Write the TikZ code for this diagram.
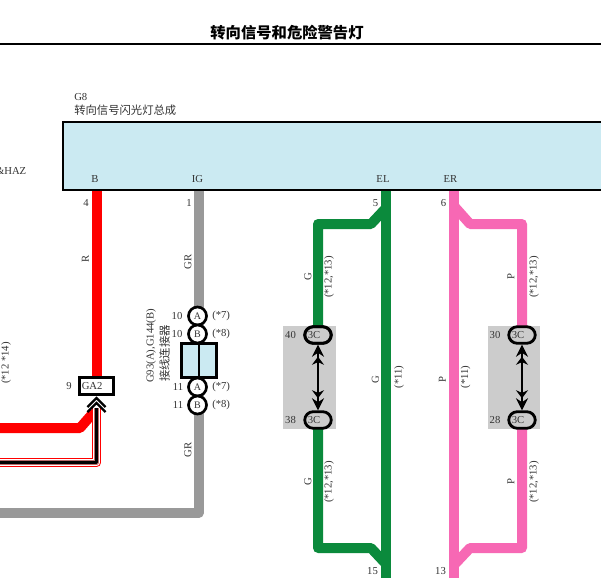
\documentclass[tikz,border=0pt]{standalone}
\usepackage{fontspec}
\setmainfont{Liberation Serif}
\newfontfamily\cjk{Noto Sans CJK SC}
\usetikzlibrary{arrows.meta}
\definecolor{boxblue}{HTML}{CBEAF2}
\definecolor{wgreen}{HTML}{0B8A3C}
\definecolor{wpink}{HTML}{F768B4}
\definecolor{wgray}{HTML}{999999}
\definecolor{wred}{HTML}{FF0000}
\definecolor{blockgray}{HTML}{CCCCCC}
\definecolor{txt}{HTML}{333333}
\tikzset{
 x=0.75pt,y=-0.75pt,
 wire/.style={line width=7.5pt,line join=round},
 lbl/.style={font=\fontsize{8}{9}\selectfont,text=txt,inner sep=0pt},
 vlbl/.style={lbl,rotate=90},
 conn/.style={circle,draw=black,fill=white,line width=2pt,minimum size=13.5pt,inner sep=0pt,font=\fontsize{7.5}{8}\selectfont,text=txt},
 pill/.style={rounded corners=6.5pt,draw=black,fill=blockgray,line width=2.1pt,minimum width=20pt,minimum height=12.5pt,inner sep=0pt,font=\fontsize{7.5}{8}\selectfont,text=txt},
 block/.style={fill=blockgray,draw=none,inner sep=0pt},
 dbl/.style={line width=1.2pt,{Stealth[length=9pt,width=9pt]Stealth[length=6pt,width=9pt]}-{Stealth[length=6pt,width=9pt]Stealth[length=9pt,width=9pt]}},
}
\begin{document}
\begin{tikzpicture}
\useasboundingbox (0,0) rectangle (601,578);
\fill[white] (0,0) rectangle (601,578);
% title
\node[inner sep=0pt,font=\cjk\bfseries\fontsize{11.5}{13}\selectfont] (title) at (287,33) {转向信号和危险警告灯};
\coordinate (r0) at (0,44); \coordinate (r1) at (601,44);
\draw[line width=2.2pt] (r0) -- (r1);
\node[lbl,anchor=west] (g8) at (74,97) {G8};
\node[lbl,anchor=west,font=\cjk\fontsize{8.5}{10}\selectfont] (g8n) at (74,110.5) {转向信号闪光灯总成};
% wires
\coordinate (redtop) at (96.5,190); \coordinate (redbot) at (96.5,377);
\draw[wire,wred] (redtop) -- (redbot);
\coordinate (graytop) at (198.5,190);\coordinate (graybot) at (198.5,513);\coordinate (grayl) at (0,513);
\draw[wire,wgray] (graytop) -- (graybot) -- (grayl);
\coordinate (a1) at (0,428);\coordinate (a2) at (80,428);\coordinate (a3) at (94,412);
\draw[wire,wred] (a1) -- (a2) -- (a3);
\coordinate (b1) at (0,462.5);\coordinate (b2) at (96.5,462.5);\coordinate (b3) at (96.5,408);
\draw[line width=7.2pt,wred,line join=round] (b1) -- (b2) -- (b3);
\draw[line width=5.4pt,white,line join=round] (b1) -- (b2) -- (b3);
\draw[line width=3.6pt,wgray!70!wred,line join=round] (b1) -- (b2) -- (b3);
\draw[line width=1.6pt,black,line join=round] (b1) -- (b2) -- (b3);
% green
\coordinate (gt) at (386,190);\coordinate (gb) at (386,578);
\draw[wire,wgreen] (gt) -- (gb);
\coordinate (g1) at (386,208);\coordinate (g2) at (371,224);\coordinate (g3) at (318,224);\coordinate (g4) at (318,548);\coordinate (g5) at (371,548);\coordinate (g6) at (386,564);
\draw[wire,wgreen] (g1) -- (g2) -- (g3) -- (g4) -- (g5) -- (g6);
% pink
\coordinate (pt) at (454,190);\coordinate (pb) at (454,578);
\draw[wire,wpink] (pt) -- (pb);
\coordinate (p1) at (454,206);\coordinate (p2) at (470,224);\coordinate (p3) at (522,224);\coordinate (p4) at (522,548);\coordinate (p5) at (470,548);\coordinate (p6) at (454,565);
\draw[wire,wpink] (p1) -- (p2) -- (p3) -- (p4) -- (p5) -- (p6);
% main box
\fill[boxblue] (63,122) rectangle (610,190);
\draw[line width=2.2pt] (610,122) -- (63,122) -- (63,190) -- (610,190);
\node[lbl] (pb1) at (95,179.5) {B};
\node[lbl] (pig) at (197.5,179.5) {IG};
\node[lbl] (pel) at (383,179.5) {EL};
\node[lbl] (per) at (450.5,179.5) {ER};
\node[lbl] (n4) at (86,203) {4};
\node[lbl] (n1) at (189,203) {1};
\node[lbl] (n5) at (375.5,203) {5};
\node[lbl] (n6) at (443.5,203) {6};
\node[lbl] (n15) at (372.5,571) {15};
\node[lbl] (n13) at (440.5,571) {13};
\node[lbl,anchor=east] (haz) at (26.5,171) {\&HAZ};
\node[vlbl] (r) at (85.5,259) {R};
\node[vlbl] (gr1) at (188,262) {GR};
\node[vlbl] (gr2) at (188,450) {GR};
\node[vlbl] (c1214) at (6,363) {(*12 *14)};
% GA2
\node[draw=black,fill=white,line width=1.9pt,minimum width=25.5pt,minimum height=13pt,inner sep=0pt] (ga2) at (96.7,386) {};
\node[lbl,anchor=west] (ga2t) at (81.5,386.5) {GA2};
\node[lbl] (n9) at (69,386) {9};
\coordinate (c1l) at (87.5,407);\coordinate (c1t) at (96.5,398);\coordinate (c1r) at (105.5,407);
\coordinate (c2l) at (87.5,412);\coordinate (c2t) at (96.5,403);\coordinate (c2r) at (105.5,412);
\draw[line width=1.7pt] (c1l) -- (c1t) -- (c1r);
\draw[line width=1.7pt] (c2l) -- (c2t) -- (c2r);
% connector
\node[conn] (ca) at (197.5,316) {A};
\node[conn] (cb) at (197.5,334) {B};
\node[conn] (cc) at (197.5,387) {A};
\node[conn] (cd) at (197.5,405) {B};
\node[draw=black,fill=boxblue,line width=2pt,minimum width=26pt,minimum height=25.5pt,inner sep=0pt] (jb) at (199,360.5) {};
\draw[line width=1.2pt] (jb.north) -- (jb.south);
\node[lbl] (t10a) at (177,316) {10};
\node[lbl] (t10b) at (177,334) {10};
\node[lbl] (t11a) at (178,387) {11};
\node[lbl] (t11b) at (178,405) {11};
\node[lbl,anchor=west] (s7a) at (212,316) {(*7)};
\node[lbl,anchor=west] (s8a) at (212,334) {(*8)};
\node[lbl,anchor=west] (s7b) at (212,387) {(*7)};
\node[lbl,anchor=west] (s8b) at (212,405) {(*8)};
\node[lbl,rotate=90,anchor=west] (g93) at (151,383) {G93(A),G144(B)};
\node[lbl,rotate=90,anchor=west,font=\cjk\fontsize{8.5}{10}\selectfont] (jn) at (164.5,382) {接线连接器};
% blocks
\fill[blockgray] (283,326) rectangle (336,429);
\fill[blockgray] (488,326) rectangle (540,429);
\node[pill] (o1) at (318,335) {};
\node[pill] (o2) at (318,420) {};
\node[pill] (o3) at (522,335) {};
\node[pill] (o4) at (522,420) {};
\node[lbl] at (o1) {\hspace*{-6pt}3C};
\node[lbl] at (o2) {\hspace*{-6pt}3C};
\node[lbl] at (o3) {\hspace*{-6pt}3C};
\node[lbl] at (o4) {\hspace*{-6pt}3C};
\draw[dbl] (o1) -- (o2);
\draw[dbl] (o3) -- (o4);
\node[pill,fill=none] at (o1) {};
\node[lbl] (n40) at (290.5,335) {40};
\node[lbl] (n38) at (290.5,420) {38};
\node[lbl] (n30) at (495,335) {30};
\node[lbl] (n28) at (495,420) {28};
\node[vlbl] at (308,277) {G};
\node[vlbl] at (329,277) {(*12,*13)};
\node[vlbl] at (511,277) {P};
\node[vlbl] at (534,277) {(*12,*13)};
\node[vlbl] at (308,482) {G};
\node[vlbl] at (329,482) {(*12,*13)};
\node[vlbl] at (511,482) {P};
\node[vlbl] at (534,482) {(*12,*13)};
\node[vlbl] at (375.5,380) {G};
\node[vlbl] at (399,377) {(*11)};
\node[vlbl] at (442.5,380) {P};
\node[vlbl] at (465.5,377) {(*11)};
\end{tikzpicture}
\end{document}
